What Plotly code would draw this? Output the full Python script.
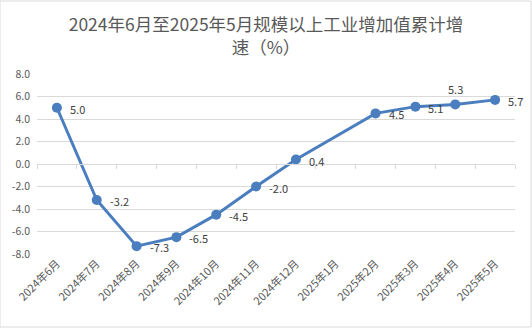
import plotly.graph_objects as go

# Monthly cumulative growth of industrial value added above designated size (%)
months = ["2024年6月", "2024年7月", "2024年8月", "2024年9月", "2024年10月", "2024年11月",
          "2024年12月", "2025年1月", "2025年2月", "2025年3月", "2025年4月", "2025年5月"]
growth = [5.0, -3.2, -7.3, -6.5, -4.5, -2.0, 0.4, None, 4.5, 5.1, 5.3, 5.7]
label_above = [False] * 10 + [True, False]
y_ticks = [8, 6, 4, 2, 0, -2, -4, -6, -8]

LINE = "#4a7ebf"
GRID = "#d9d9d9"
TEXT = "#595959"
CJK = "Noto Sans CJK SC"

fig = go.Figure()
fig.add_trace(go.Scatter(
    x=months, y=growth, mode="lines+markers",
    connectgaps=True,
    line=dict(color=LINE, width=3),
    marker=dict(color=LINE, size=10),
    cliponaxis=False, showlegend=False, xaxis="x", yaxis="y",
))
# invisible copy on the secondary axis so it draws the zero line with boundary ticks
fig.add_trace(go.Scatter(x=months, y=[0] * len(months), mode="markers",
                         marker=dict(opacity=0), hoverinfo="skip",
                         showlegend=False, xaxis="x2", yaxis="y"))

# value labels next to each point
for m, v, above in zip(months, growth, label_above):
    if v is None:
        continue
    fig.add_annotation(
        x=m, y=v, xref="x", yref="y", text=f"{v:.1f}", showarrow=False,
        xanchor="center" if above else "left",
        xshift=0 if above else 11, yshift=15 if above else -1,
        font=dict(family=CJK, size=11, color="#404040"),
    )

fig.update_layout(
    width=532, height=328,
    margin=dict(l=37, r=17, t=74, b=74),
    paper_bgcolor="white", plot_bgcolor="white",
    title=dict(text="2024年6月至2025年5月规模以上工业增加值累计增<br>速（%）",
               x=0.5, xanchor="center", y=1 - 31 / 328, yanchor="middle",
               font=dict(family=CJK, size=17.5, color=TEXT)),
    xaxis=dict(type="category", categoryorder="array", categoryarray=months,
               range=[-0.5, len(months) - 0.5],
               showgrid=False, showline=False, zeroline=False, ticks="",
               tickangle=-45, tickfont=dict(family=CJK, size=11, color=TEXT)),
    xaxis2=dict(type="category", categoryorder="array", categoryarray=months,
                range=[-0.5, len(months) - 0.5], overlaying="x",
                anchor="free", position=0.5, side="bottom",
                showline=True, linecolor=GRID, linewidth=1,
                ticks="outside", tickson="boundaries", ticklen=4, tickcolor=GRID,
                showticklabels=False, showgrid=False, zeroline=False),
    yaxis=dict(range=[-8, 8], tickvals=y_ticks,
               ticktext=[f"{v:.1f}" for v in y_ticks],
               showgrid=True, gridcolor=GRID, gridwidth=1, zeroline=False,
               showline=False, ticks="", ticklabelstandoff=6,
               tickfont=dict(family=CJK, size=10.5, color=TEXT)),
    shapes=[dict(type="rect", xref="paper", yref="paper",
                 x0=-37 / 478, x1=1 + 16 / 478, y0=-73 / 180, y1=1 + 73 / 180,
                 line=dict(color="#d9d9d9", width=1))],
)

fig.write_html("out.html")
